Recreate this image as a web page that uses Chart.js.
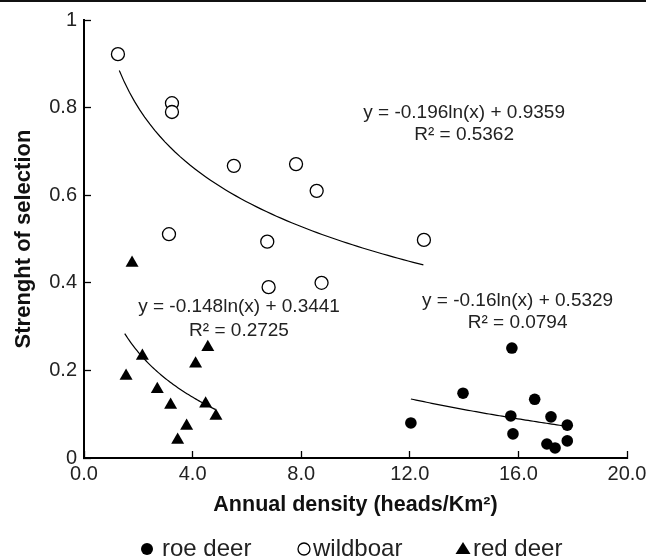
<!DOCTYPE html>
<html>
<head>
<meta charset="utf-8">
<script src="https://cdn.jsdelivr.net/npm/chart.js@4.4.1/dist/chart.umd.min.js"></script>
<style>
  html, body { margin: 0; padding: 0; background: #fff; }
  #wrap { position: relative; width: 646px; height: 558px; }
  #topbar { position: absolute; left: 0; top: 0; width: 646px; height: 2px; background: #111; }
</style>
</head>
<body>
<div id="wrap">
  <canvas id="myChart"></canvas>
  <div id="topbar"></div>
</div>
<script>
// points
const roeX = [12.04, 13.96, 15.76, 15.72, 15.8, 16.6, 17.2, 17.8, 17.8, 17.05, 17.35];
const roeY = [0.080, 0.148, 0.251, 0.096, 0.055, 0.134, 0.094, 0.075, 0.039, 0.032, 0.023];
const boarX = [1.25, 3.24, 3.24, 5.52, 7.81, 8.57, 3.13, 6.75, 12.52, 6.8, 8.75];
const boarY = [0.922, 0.810, 0.790, 0.667, 0.671, 0.610, 0.511, 0.494, 0.498, 0.390, 0.400];
const redX = [1.77, 1.55, 2.15, 2.7, 3.19, 3.45, 3.78, 4.11, 4.56, 4.48, 4.86];
const redY = [0.445, 0.187, 0.233, 0.157, 0.121, 0.041, 0.073, 0.215, 0.253, 0.124, 0.096];

const seriesNames = ["roe deer", "wildboar", "red deer"];

// log trend lines as printed on the chart: y = a*ln(x) + b, from xFrom to xTo
const trendA = [-0.16, -0.196, -0.148];
const trendB = [0.5329, 0.9359, 0.3441];
const trendR2 = ["0.0794", "0.5362", "0.2725"];
const trendFrom = [12.04, 1.3, 1.5];
const trendTo = [17.8, 12.5, 4.85];

// where the equation labels sit (data units)
const labelX = [15.97, 14.0, 5.71];
const labelY1 = [0.358, 0.788, 0.345];
const labelY2 = [0.308, 0.737, 0.29];

const FONT = '"Liberation Sans", Arial, Helvetica, sans-serif';

function pts(xs, ys){
    let out = [];
    for(let i = 0; i < xs.length; i++){
        out.push({x: xs[i], y: ys[i]});
    }
    return out;
}

function trendPoints(i){
    let out = [];
    let n = 60;
    for(let k = 0; k <= n; k++){
        let x = trendFrom[i] + (trendTo[i] - trendFrom[i]) * k / n;
        out.push({x: x, y: trendA[i] * Math.log(x) + trendB[i]});
    }
    return out;
}

function eqText(i){
    return "y = " + trendA[i] + "ln(x) + " + trendB[i];
}

const annotations = {
    id: 'annotations',
    afterDatasetsDraw(chart){
        const ctx = chart.ctx;
        const xs = chart.scales.x, ys = chart.scales.y;
        ctx.save();
        ctx.font = '19px ' + FONT;
        ctx.fillStyle = '#222';
        ctx.textAlign = 'center';
        ctx.textBaseline = 'middle';
        for(let i = 0; i < 3; i++){
            let px = xs.getPixelForValue(labelX[i]);
            ctx.fillText(eqText(i), px, ys.getPixelForValue(labelY1[i]));
            ctx.fillText("R\u00b2 = " + trendR2[i], px, ys.getPixelForValue(labelY2[i]));
        }
        ctx.restore();
    }
};

// legend drawn by hand so the spacing can follow the picture
const legendPos = [{mark: 147, text: 162}, {mark: 304, text: 313}, {mark: 463, text: 473}];
const bottomLegend = {
    id: 'bottomLegend',
    afterDraw(chart){
        const ctx = chart.ctx;
        const y = 549;
        ctx.save();
        ctx.font = '24px ' + FONT;
        ctx.fillStyle = '#222';
        ctx.textBaseline = 'middle';
        ctx.textAlign = 'left';
        for(let i = 0; i < 3; i++){
            let p = legendPos[i];
            ctx.beginPath();
            if(i == 0){
                ctx.arc(p.mark, y, 6, 0, Math.PI * 2);
                ctx.fillStyle = '#000';
                ctx.fill();
            }
            else if(i == 1){
                ctx.arc(p.mark, y, 6, 0, Math.PI * 2);
                ctx.lineWidth = 1.3;
                ctx.strokeStyle = '#000';
                ctx.stroke();
            }
            else{
                ctx.moveTo(p.mark, y - 7);
                ctx.lineTo(p.mark + 7.5, y + 5);
                ctx.lineTo(p.mark - 7.5, y + 5);
                ctx.closePath();
                ctx.fillStyle = '#000';
                ctx.fill();
            }
            ctx.fillStyle = '#222';
            ctx.fillText(seriesNames[i], p.text, y);
        }
        ctx.restore();
    }
};

const ctx = document.getElementById('myChart');
new Chart(ctx, {
    type: 'scatter',
    data: {
        datasets: [
            {label: seriesNames[0], data: pts(roeX, roeY), pointStyle: 'circle', pointRadius: 5.8,
             backgroundColor: '#000', borderColor: '#000', borderWidth: 0},
            {label: seriesNames[1], data: pts(boarX, boarY), pointStyle: 'circle', pointRadius: 6.5,
             backgroundColor: '#fff', borderColor: '#000', borderWidth: 1.3},
            {label: seriesNames[2], data: pts(redX, redY), pointStyle: 'triangle', pointRadius: 7.5,
             backgroundColor: '#000', borderColor: '#000', borderWidth: 0},
            {type: 'line', data: trendPoints(0), borderColor: '#000', borderWidth: 1.2, pointRadius: 0, fill: false},
            {type: 'line', data: trendPoints(1), borderColor: '#000', borderWidth: 1.2, pointRadius: 0, fill: false},
            {type: 'line', data: trendPoints(2), borderColor: '#000', borderWidth: 1.2, pointRadius: 0, fill: false}
        ]
    },
    options: {
        responsive: true,
        maintainAspectRatio: false,
        animation: false,
        layout: {padding: {top: 20, right: 19, left: 0, bottom: 0}},
        plugins: {
            legend: {display: false},
            tooltip: {enabled: false}
        },
        scales: {
            x: {
                type: 'linear',
                min: 0, max: 20,
                afterFit: (scale) => {
                    scale.height = 100;
                    scale.paddingLeft = 0;
                    scale.paddingRight = 0;
                },
                border: {display: true, color: '#000', width: 2},
                grid: {drawOnChartArea: false, drawTicks: true, tickLength: -7, tickColor: '#000', tickWidth: 1.3},
                ticks: {
                    stepSize: 4, padding: 11, color: '#222', maxRotation: 0,
                    font: {size: 20, family: FONT},
                    callback: (v) => v.toFixed(1)
                },
                title: {
                    display: true, text: 'Annual density (heads/Km\u00b2)', color: '#111',
                    font: {size: 21.5, weight: 'bold', family: FONT},
                    padding: {top: 4, bottom: 40}
                }
            },
            y: {
                min: 0, max: 1,
                afterFit: (scale) => {
                    scale.width = 84;
                    scale.paddingTop = 0;
                    scale.paddingBottom = 0;
                },
                border: {display: true, color: '#000', width: 2},
                grid: {drawOnChartArea: false, drawTicks: true, tickLength: -7, tickColor: '#000', tickWidth: 1.3},
                ticks: {
                    stepSize: 0.2, padding: 14, color: '#222',
                    font: {size: 20, family: FONT},
                    callback: (v) => String(parseFloat(v.toFixed(2)))
                },
                title: {
                    display: true, text: 'Strenght of selection', color: '#111',
                    font: {size: 22, weight: 'bold', family: FONT},
                    padding: {top: 11, bottom: 0}
                }
            }
        }
    },
    plugins: [annotations, bottomLegend]
});
</script>
</body>
</html>
